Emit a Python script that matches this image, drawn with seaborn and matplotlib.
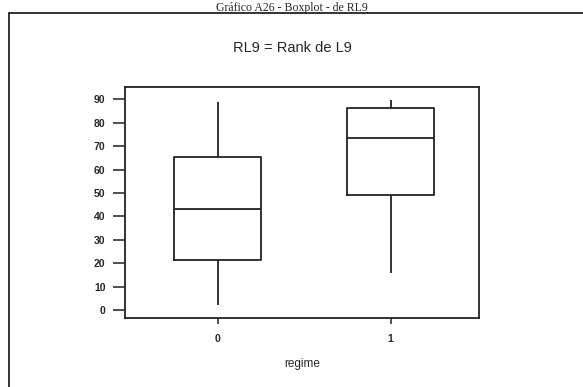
import matplotlib
matplotlib.use("Agg")
import matplotlib.pyplot as plt
import seaborn as sns
import pandas as pd
from matplotlib.lines import Line2D

# Five-number summaries (min, Q1, median, Q3, max)
regime_0 = [2.1, 21.4, 43.1, 65.4, 89.0]
regime_1 = [15.9, 49.3, 73.4, 86.5, 89.6]
categories = ["0", "1"]
y_ticks = [0, 10, 20, 30, 40, 50, 60, 70, 80, 90]

df = pd.DataFrame({
    "regime": [categories[0]] * len(regime_0) + [categories[1]] * len(regime_1),
    "RL9": regime_0 + regime_1,
})

sns.set_theme(style="white")
plt.rcParams['font.family'] = ['Liberation Sans', 'DejaVu Sans']

W, H = 583, 387
fig = plt.figure(figsize=(W / 100, H / 100), dpi=100)
ax = fig.add_axes([125 / W, 1 - 317.5 / H, (478.7 - 125) / W, (317.5 - 87) / H])

sns.boxplot(data=df, x="regime", y="RL9", order=categories, ax=ax,
            fill=False, color="#222222", linecolor="#222222", width=0.5,
            whis=(0, 100), showcaps=False, linewidth=1.3,
            medianprops=dict(color="#222222", linewidth=1.3))

ax.set_xlim(-0.536, 1.509)
ax.set_ylim(-3.2, 95.3)
ax.set_yticks(y_ticks)
ax.set_yticklabels([str(v) for v in y_ticks], fontsize=7.5, fontweight="bold")
ax.set_xticks([0, 1])
ax.set_xticklabels(categories, fontsize=7.5, fontweight="bold")
ax.tick_params(axis="y", direction="out", length=9, width=1.1, color="#222222", pad=5, left=True)
ax.tick_params(axis="x", direction="out", length=4, width=1.1, color="#222222", pad=8, bottom=True)
ax.set_ylabel("")
ax.set_xlabel("regime", fontsize=8.5, labelpad=10)
for s in ax.spines.values():
    s.set_visible(True)
    s.set_color("#222222")
    s.set_linewidth(1.3)

fig.text(292 / W, 1 - 48 / H, "RL9 = Rank de L9", ha="center", va="center", fontsize=10.5)

# Document caption above the frame
fig.text(292 / W, 1 - 10.8 / H, "Gráfico A26 - Boxplot - de RL9", ha="center", va="baseline",
         fontsize=8.5, family="Liberation Serif")

# Outer frame lines
fig.add_artist(Line2D([9 / W, 1.0], [1 - 12.5 / H, 1 - 12.5 / H], transform=fig.transFigure,
                      color="#222222", linewidth=1.3))
fig.add_artist(Line2D([9 / W, 9 / W], [1 - 12.5 / H, 0.0], transform=fig.transFigure,
                      color="#222222", linewidth=1.3))

fig.savefig("out.png", dpi=100)
